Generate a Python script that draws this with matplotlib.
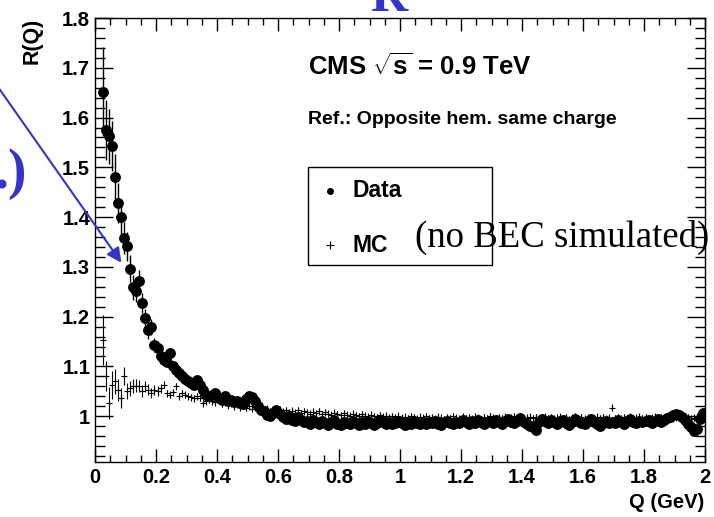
import numpy as np
import matplotlib
matplotlib.use("Agg")
import matplotlib.pyplot as plt
from matplotlib.patches import Rectangle, FancyArrowPatch
from matplotlib.ticker import MultipleLocator, FuncFormatter

# ---------------- data ----------------
bin_lo, bin_width, n_bins = 0.02, 0.01, 198
q = bin_lo + bin_width * (np.arange(n_bins) + 0.5)

data_r = [
    1.652, 1.575, 1.562, 1.543, 1.481, 1.428, 1.400, 1.358, 1.341, 1.296,
    1.259, 1.252, 1.272, 1.227, 1.197, 1.173, 1.179, 1.143, 1.137, 1.120,
    1.113, 1.108, 1.127, 1.100, 1.093, 1.087, 1.080, 1.075, 1.070, 1.067,
    1.063, 1.073, 1.063, 1.053, 1.043, 1.040, 1.042, 1.047, 1.037, 1.033,
    1.040, 1.030, 1.033, 1.028, 1.030, 1.027, 1.025, 1.035, 1.040, 1.038,
    1.030, 1.020, 1.013, 1.010, 1.002, 1.000, 1.007, 1.012, 1.005, 0.998,
    0.995, 1.000, 0.993, 0.990, 0.998, 0.992, 0.988, 0.990, 0.985, 0.992,
    0.988, 0.984, 0.990, 0.986, 0.982, 0.988, 0.992, 0.985, 0.983, 0.989,
    0.987, 0.984, 0.991, 0.986, 0.983, 0.988, 0.985, 0.990, 0.987, 0.982,
    0.986, 0.992, 0.988, 0.984, 0.989, 0.985, 0.987, 0.991, 0.986, 0.983,
    0.988, 0.984, 0.990, 0.987, 0.985, 0.989, 0.984, 0.988, 0.986, 0.991,
    0.985, 0.983, 0.988, 0.990, 0.986, 0.984, 0.989, 0.987, 0.993, 0.988,
    0.985, 0.990, 0.986, 0.992, 0.988, 0.984, 0.989, 0.991, 0.987, 0.993,
    0.989, 0.985, 0.990, 0.994, 0.988, 0.986, 0.991, 0.996, 0.989, 0.985,
    0.980, 0.978, 0.972, 0.988, 0.995, 0.990, 0.986, 0.992, 0.988, 0.985,
    0.990, 0.993, 0.987, 0.983, 0.989, 0.994, 0.990, 0.986, 0.984, 0.990,
    0.995, 0.988, 0.985, 0.980, 0.986, 0.991, 0.987, 0.989, 0.986, 0.992,
    0.988, 0.985, 0.990, 0.994, 0.989, 0.986, 0.991, 0.988, 0.990, 0.993,
    0.987, 0.991, 0.995, 0.989, 0.992, 0.996, 0.999, 1.002, 1.005, 1.003,
    0.998, 0.993, 0.985, 0.978, 0.970, 0.975, 0.995, 1.007,
]
data_err_head = [0.090, 0.060, 0.055, 0.050, 0.045, 0.040, 0.035, 0.032, 0.030, 0.027,
                 0.025, 0.023, 0.021, 0.020, 0.018, 0.017, 0.016, 0.015, 0.014, 0.013]
data_err_tail = 0.008

mc_r = [
    1.153, 1.080, 1.026, 1.063, 1.070, 1.053, 1.036, 1.080, 1.050, 1.056,
    1.060, 1.061, 1.060, 1.050, 1.060, 1.053, 1.046, 1.053, 1.050, 1.056,
    1.063, 1.046, 1.043, 1.048, 1.060, 1.040, 1.046, 1.043, 1.040, 1.038,
    1.036, 1.040, 1.037, 1.026, 1.030, 1.033, 1.030, 1.028, 1.032, 1.025,
    1.028, 1.022, 1.026, 1.020, 1.024, 1.018, 1.021, 1.017, 1.020, 1.015,
    1.018, 1.013, 1.016, 1.012, 1.015, 1.010, 1.014, 1.011, 1.013, 1.009,
    1.012, 1.008, 1.011, 1.007, 1.012, 1.006, 1.010, 1.008, 1.005, 1.009,
    1.006, 1.010, 1.004, 1.008, 1.005, 1.003, 1.007, 1.004, 1.002, 1.006,
    1.003, 1.001, 1.005, 1.002, 1.000, 1.004, 1.001, 0.999, 1.003, 1.000,
    0.998, 1.002, 0.999, 1.001, 0.997, 1.000, 0.998, 1.001, 0.997, 0.999,
    0.996, 1.000, 0.998, 0.995, 0.999, 0.997, 1.000, 0.996, 0.998, 0.995,
    0.999, 0.997, 0.994, 0.998, 0.996, 1.000, 0.997, 0.995, 0.999, 0.996,
    0.998, 0.995, 0.999, 0.997, 0.994, 0.998, 0.996, 1.000, 0.997, 0.995,
    0.998, 0.996, 0.999, 0.995, 0.997, 1.000, 0.996, 0.998, 0.994, 0.997,
    0.999, 0.996, 0.998, 0.995, 0.997, 0.999, 0.996, 0.998, 0.995, 0.997,
    0.999, 0.996, 0.998, 0.994, 0.997, 1.000, 0.996, 0.998, 0.995, 0.997,
    0.998, 0.995, 0.999, 0.996, 0.998, 0.995, 0.997, 1.017, 0.996, 0.998,
    0.995, 0.998, 0.996, 0.999, 0.995, 0.997, 0.999, 0.996, 0.998, 0.995,
    0.997, 0.999, 0.996, 0.998, 0.995, 0.997, 1.000, 0.996, 0.998, 0.997,
    0.999, 0.996, 0.998, 0.995, 0.997, 0.999, 0.996, 1.000,
]
mc_err_head = [0.050, 0.030, 0.032, 0.028, 0.025, 0.022, 0.020, 0.018, 0.016, 0.015,
               0.014, 0.013, 0.012, 0.012, 0.011, 0.011, 0.010, 0.010, 0.010, 0.009]
mc_err_tail = 0.007

x_ticks = [0, 0.2, 0.4, 0.6, 0.8, 1.0, 1.2, 1.4, 1.6, 1.8, 2.0]
y_ticks = [1.0, 1.1, 1.2, 1.3, 1.4, 1.5, 1.6, 1.7, 1.8]

data_err = data_err_head + [data_err_tail] * (len(data_r) - len(data_err_head))
mc_err = mc_err_head + [mc_err_tail] * (len(mc_r) - len(mc_err_head))

# ---------------- figure ----------------
W, H = 714, 517
plt.rcParams['mathtext.fontset'] = 'custom'
plt.rcParams['mathtext.rm'] = 'Liberation Sans:bold'
plt.rcParams['mathtext.bf'] = 'Liberation Sans:bold'
plt.rcParams['mathtext.it'] = 'Liberation Sans:bold'

fig = plt.figure(figsize=(W / 100, H / 100), dpi=100)
fig.patch.set_facecolor('white')


def fx(x):
    return x / W


def fy(y):
    return 1 - y / H


ax_l, ax_r, ax_t, ax_b = 95, 705, 18, 462
ax = fig.add_axes([fx(ax_l), fy(ax_b), (ax_r - ax_l) / W, (ax_b - ax_t) / H])

SANS = 'Liberation Sans'

ax.errorbar(q, mc_r, yerr=mc_err, fmt='+', color='k', ms=4.5, mew=0.8,
            elinewidth=0.8, capsize=0, zorder=2)
ax.errorbar(q, data_r, yerr=data_err, fmt='o', color='k', ms=6.8,
            elinewidth=1.0, capsize=0, zorder=3)

ax.set_xlim(0, 2)
ax.set_ylim(0.908, 1.8)
ax.set_xticks(x_ticks)
ax.set_yticks(y_ticks)
ax.xaxis.set_minor_locator(MultipleLocator(0.05))
ax.yaxis.set_minor_locator(MultipleLocator(0.02))
fmt = FuncFormatter(lambda v, p: '%g' % round(v, 2))
ax.xaxis.set_major_formatter(fmt)
ax.yaxis.set_major_formatter(fmt)
ax.tick_params(which='both', direction='in', top=True, right=True, width=1.0,
               colors='k')
ax.tick_params(axis='x', which='major', length=9.5, pad=4.5)
ax.tick_params(axis='x', which='minor', length=5)
ax.tick_params(axis='y', which='major', length=13, pad=3.5)
ax.tick_params(axis='y', which='minor', length=7)
for lab in ax.get_xticklabels() + ax.get_yticklabels():
    lab.set_fontfamily(SANS)
    lab.set_fontweight('bold')
    lab.set_fontsize(14.5)
for s in ax.spines.values():
    s.set_linewidth(1.0)

# axis titles
fig.text(fx(32), fy(18), 'R(Q)', rotation=90, ha='center', va='top',
         fontfamily=SANS, fontweight='bold', fontsize=15.5)
fig.text(fx(704), fy(503), 'Q (GeV)', ha='right', va='center',
         fontfamily=SANS, fontweight='bold', fontsize=14.5)

# in-plot texts
fig.text(fx(308), fy(67), r'CMS $\sqrt{\mathrm{s}}$ = 0.9 TeV', ha='left',
         va='center', fontfamily=SANS, fontweight='bold', fontsize=18.5)
fig.text(fx(308), fy(120), 'Ref.: Opposite hem. same charge', ha='left',
         va='center', fontfamily=SANS, fontweight='bold', fontsize=14)

# legend box
fig.patches.append(Rectangle((fx(308), fy(265)), (492 - 308) / W, (265 - 167) / H,
                             transform=fig.transFigure, facecolor='white',
                             edgecolor='k', linewidth=1.0, zorder=5))
fig.lines.append(plt.Line2D([fx(330)], [fy(191)], marker='o', ms=4, color='k',
                            transform=fig.transFigure, zorder=6))
fig.lines.append(plt.Line2D([fx(330)], [fy(245)], marker='+', ms=6, mew=0.8,
                            color='k', transform=fig.transFigure, zorder=6))
fig.text(fx(353), fy(191), 'Data', ha='left', va='center', fontfamily=SANS,
         fontweight='bold', fontsize=16.5, zorder=7)
fig.text(fx(353), fy(245), 'MC', ha='left', va='center', fontfamily=SANS,
         fontweight='bold', fontsize=16.5, zorder=7)

# slide overlay annotations
fig.text(fx(415), fy(247), '(no BEC simulated)', ha='left', va='baseline',
         fontfamily='Liberation Serif', fontsize=26.5, color='k', zorder=8)
blue = '#3434c8'
fig.text(fx(389), fy(11), 'R', ha='center', va='baseline',
         fontfamily='Liberation Serif', fontweight='bold', fontsize=37,
         color=blue)
fig.text(fx(27), fy(188), '.)', ha='right', va='baseline',
         fontfamily='Liberation Serif', fontweight='bold', fontsize=40,
         color=blue)
arr = FancyArrowPatch((fx(-2), fy(87)), (fx(123), fy(265)),
                      transform=fig.transFigure, arrowstyle='-|>',
                      mutation_scale=22, color=blue, linewidth=1.5, zorder=9)
fig.patches.append(arr)

fig.savefig('out.png', dpi=100)
